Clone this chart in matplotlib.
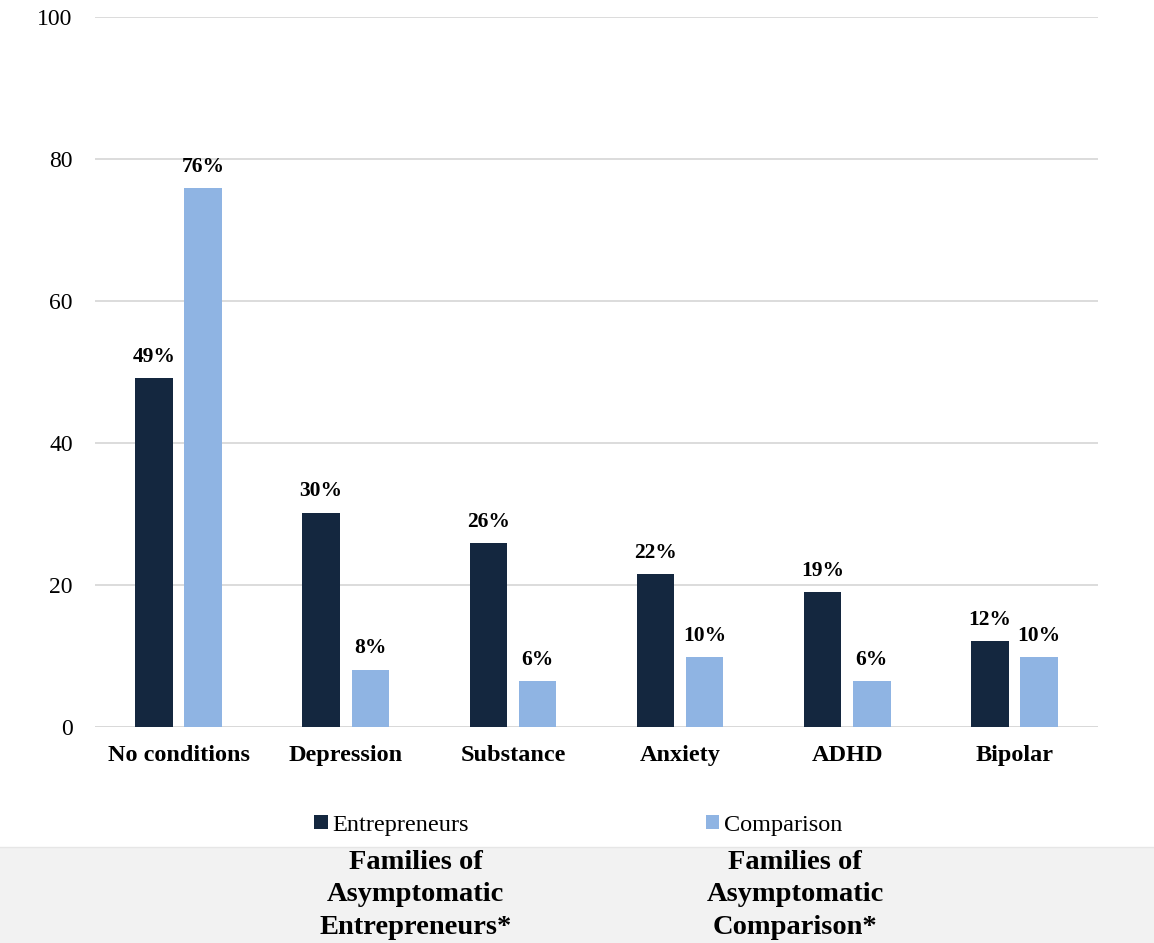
import matplotlib.pyplot as plt
import matplotlib
from matplotlib.patches import Rectangle
import numpy as np

matplotlib.rcParams['font.family'] = ['Liberation Serif', 'DejaVu Serif']

categories = ['No conditions', 'Depression', 'Substance', 'Anxiety', 'ADHD', 'Bipolar']
entrepreneurs = [49.1, 30.2, 25.9, 21.6, 19.0, 12.1]
comparison = [75.9, 8.1, 6.5, 9.8, 6.5, 9.8]
ent_labels = ['49%', '30%', '26%', '22%', '19%', '12%']
comp_labels = ['76%', '8%', '6%', '10%', '6%', '10%']
series_names = ['Entrepreneurs', 'Comparison']
footer_labels = ['Families of\nAsymptomatic\nEntrepreneurs*', 'Families of\nAsymptomatic\nComparison*']

dark = '#14273f'
light = '#8fb4e3'
grid = '#d9d9d9'

fig = plt.figure(figsize=(11.54, 9.43), dpi=100)
ax = fig.add_axes([0.0823, 0.229, 0.8692, 0.753])

x = np.arange(len(categories))
w = 0.225
off = 0.147
b1 = ax.bar(x - off, entrepreneurs, w, color=dark, label=series_names[0], zorder=3)
b2 = ax.bar(x + off, comparison, w, color=light, label=series_names[1], zorder=3)

for bars, labs in ((b1, ent_labels), (b2, comp_labels)):
    for r, t in zip(bars, labs):
        ax.annotate(t, (r.get_x() + r.get_width() / 2, r.get_height()),
                    xytext=(0, 8), textcoords='offset points',
                    ha='center', va='bottom', fontsize=15.5, fontweight='bold')

ax.set_xlim(-0.5, len(categories) - 0.5)
ax.set_ylim(0, 100)
ax.set_yticks([0, 20, 40, 60, 80, 100])
ax.set_xticks(x)
ax.set_xticklabels(categories, fontsize=17.5, fontweight='bold')
ax.tick_params(axis='y', labelsize=17, length=0, pad=16)
ax.tick_params(axis='x', length=0, pad=13)
ax.yaxis.grid(True, color=grid, linewidth=1.3, zorder=0)
ax.set_axisbelow(True)
for s in ax.spines.values():
    s.set_visible(False)
ax.axhline(0, color=grid, linewidth=1.3, zorder=1)

fig.legend(handles=[b1, b2], labels=series_names, loc='center left',
           bbox_to_anchor=(0.264, 0.125), ncol=2, frameon=False,
           fontsize=17.5, handlelength=0.55, handleheight=0.55,
           handletextpad=0.2, columnspacing=9.75, borderaxespad=0)

# shaded footer band
fig.patches.append(Rectangle((0, 0), 1, 0.102, transform=fig.transFigure,
                             facecolor='#f2f2f2', edgecolor='none', zorder=0))
fig.add_artist(plt.Line2D([0, 1], [0.102, 0.102], transform=fig.transFigure,
                          color='#e6e6e6', linewidth=1))
fig.text(0.360, 0.051, footer_labels[0], ha='center', va='center',
         fontsize=20.5, fontweight='bold', linespacing=1.4)
fig.text(0.689, 0.051, footer_labels[1], ha='center', va='center',
         fontsize=20.5, fontweight='bold', linespacing=1.4)

plt.savefig('out.png', dpi=100)
